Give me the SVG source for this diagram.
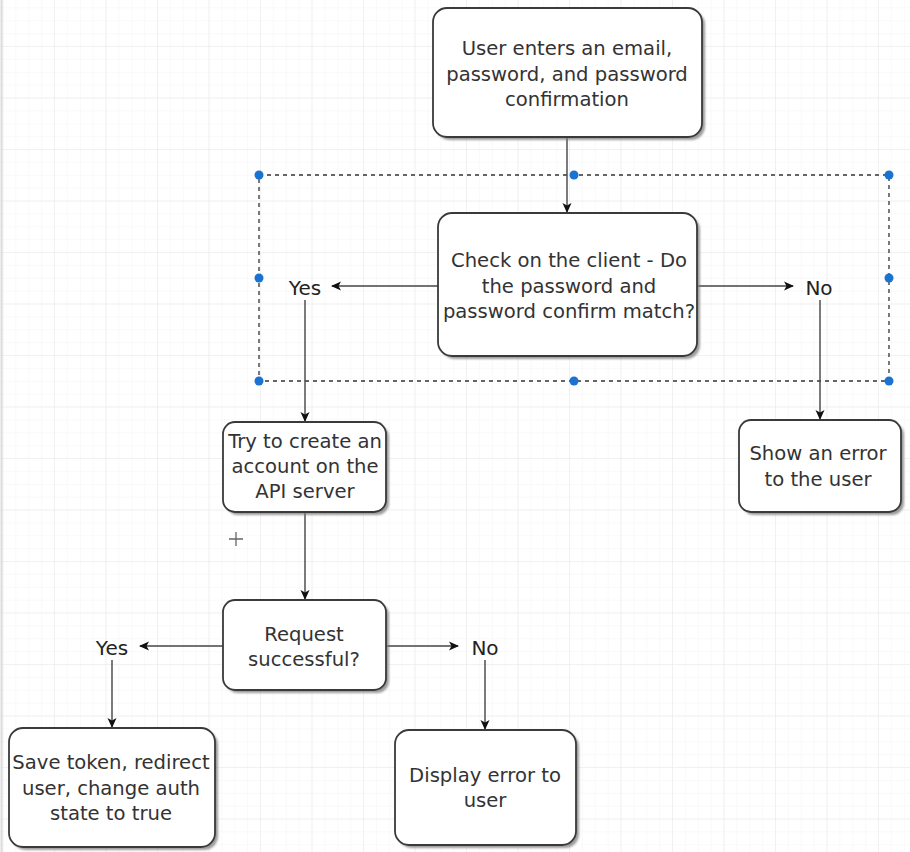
<svg xmlns="http://www.w3.org/2000/svg" width="910" height="852" viewBox="0 0 910 852">
<defs>
<pattern id="minor" width="12.875" height="12.875" patternUnits="userSpaceOnUse" x="3.5" y="-4.5">
<path d="M12.875 0V12.875M0 12.875H12.875" fill="none" stroke="#f3f3f3" stroke-width="1"/>
</pattern>
<pattern id="major" width="51.5" height="51.5" patternUnits="userSpaceOnUse" x="3.5" y="-4.5">
<path d="M51.5 0V51.5M0 51.5H51.5" fill="none" stroke="#e9e9e9" stroke-width="1"/>
</pattern>
<marker id="arr" viewBox="0 0 10 10" refX="9" refY="5" markerWidth="10" markerHeight="10" markerUnits="userSpaceOnUse" orient="auto">
<path d="M0,0.5 L10,5 L0,9.5 L2.5,5 z" fill="#111"/>
</marker>
<filter id="sh" x="-10%" y="-10%" width="130%" height="130%">
<feGaussianBlur stdDeviation="1.2"/>
</filter>
</defs>
<style>
.box{fill:#fff;stroke:#3a3a3a;stroke-width:1.8}
.shadow{fill:#7a7a7a;opacity:0.75;filter:url(#sh)}
.t{font-family:"DejaVu Sans",Verdana,sans-serif;font-size:19.6px;fill:#333;text-anchor:middle}
.lbl{font-family:"DejaVu Sans",Verdana,sans-serif;font-size:20px;fill:#222;text-anchor:middle}
.edge{fill:none;stroke:#444;stroke-width:1.4}
.sel{fill:none;stroke:#333;stroke-width:1.3;stroke-dasharray:4 4}
.h{fill:#1a73d0}
</style>
<rect width="910" height="852" fill="#fff"/>
<rect width="910" height="852" fill="url(#minor)"/>
<rect width="910" height="852" fill="url(#major)"/>
<line x1="1.5" y1="0" x2="1.5" y2="852" stroke="#dcdcdc" stroke-width="2"/>

<g id="selection">
<rect class="sel" x="259" y="175" width="630" height="206"/>
<circle class="h" cx="259" cy="175" r="4.5"/>
<circle class="h" cx="574" cy="175" r="4.5"/>
<circle class="h" cx="889" cy="175" r="4.5"/>
<circle class="h" cx="259" cy="278" r="4.5"/>
<circle class="h" cx="889" cy="278" r="4.5"/>
<circle class="h" cx="259" cy="381" r="4.5"/>
<circle class="h" cx="574" cy="381" r="4.5"/>
<circle class="h" cx="889" cy="381" r="4.5"/>
</g>

<g id="connectors">
<path class="edge" d="M567 137V212" marker-end="url(#arr)"/>
<path class="edge" d="M438 286H332" marker-end="url(#arr)"/>
<path class="edge" d="M697 286H793" marker-end="url(#arr)"/>
<path class="edge" d="M305 300V421" marker-end="url(#arr)"/>
<path class="edge" d="M820 300V419" marker-end="url(#arr)"/>
<path class="edge" d="M305 512V599" marker-end="url(#arr)"/>
<path class="edge" d="M223 646H140" marker-end="url(#arr)"/>
<path class="edge" d="M386 646H458" marker-end="url(#arr)"/>
<path class="edge" d="M112 660V727" marker-end="url(#arr)"/>
<path class="edge" d="M485 660V729" marker-end="url(#arr)"/>
</g>

<g id="n1">
<rect class="shadow" x="436" y="11" width="269" height="129" rx="14"/>
<rect class="box" x="433" y="8" width="269" height="129" rx="14"/>
<text class="t" x="567" y="55">User enters an email,</text>
<text class="t" x="567" y="81">password, and password</text>
<text class="t" x="567" y="106">confirmation</text>
</g>

<g id="n2">
<rect class="shadow" x="441" y="216" width="259" height="143" rx="14"/>
<rect class="box" x="438" y="213" width="259" height="143" rx="14"/>
<text class="t" x="569" y="267">Check on the client - Do</text>
<text class="t" x="569" y="293">the password and</text>
<text class="t" x="569" y="318">password confirm match?</text>
</g>

<g id="yes1"><text class="lbl" x="305" y="295">Yes</text></g>
<g id="no1"><text class="lbl" x="819" y="295">No</text></g>

<g id="n3">
<rect class="shadow" x="226" y="425" width="163" height="90" rx="12"/>
<rect class="box" x="223" y="422" width="163" height="90" rx="12"/>
<text class="t" x="305" y="448">Try to create an</text>
<text class="t" x="305" y="473">account on the</text>
<text class="t" x="305" y="498">API server</text>
</g>

<g id="n4">
<rect class="shadow" x="742" y="423" width="162" height="92" rx="12"/>
<rect class="box" x="739" y="420" width="162" height="92" rx="12"/>
<text class="t" x="818" y="460">Show an error</text>
<text class="t" x="818" y="486">to the user</text>
</g>

<g id="plus"><path d="M229 539H243M236 532V546" stroke="#666" stroke-width="1.3" fill="none"/></g>

<g id="n5">
<rect class="shadow" x="226" y="603" width="163" height="90" rx="12"/>
<rect class="box" x="223" y="600" width="163" height="90" rx="12"/>
<text class="t" x="304" y="641">Request</text>
<text class="t" x="304" y="666">successful?</text>
</g>

<g id="yes2"><text class="lbl" x="112" y="655">Yes</text></g>
<g id="no2"><text class="lbl" x="485" y="655">No</text></g>

<g id="n6">
<rect class="shadow" x="12" y="731" width="206" height="119" rx="14"/>
<rect class="box" x="9" y="728" width="206" height="119" rx="14"/>
<text class="t" x="111" y="769">Save token, redirect</text>
<text class="t" x="111" y="795">user, change auth</text>
<text class="t" x="111" y="820">state to true</text>
</g>

<g id="n7">
<rect class="shadow" x="398" y="733" width="181" height="115" rx="14"/>
<rect class="box" x="395" y="730" width="181" height="115" rx="14"/>
<text class="t" x="485" y="782">Display error to</text>
<text class="t" x="485" y="807">user</text>
</g>
</svg>
